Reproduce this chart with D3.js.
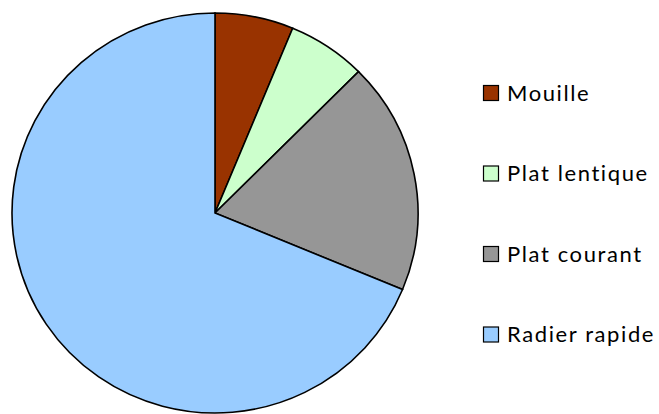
<!DOCTYPE html>
<html>
<head>
<meta charset="utf-8">
<script src="https://cdn.jsdelivr.net/npm/d3@7"></script>
<style>
  body { margin: 0; background: #fff; }
  text { font-family: Lato, "DejaVu Sans", sans-serif; }
</style>
</head>
<body>
<div id="chart"></div>
<script>
// data
const categories = ["Mouille", "Plat lentique", "Plat courant", "Radier rapide"]
const values = [6.25, 6.25, 18.75, 68.75]
const colors = ["#993300", "#CCFFCC", "#969696", "#99CCFF"]

const width = 659
const height = 414
const radius = 200
const center = {x: 215, y: 213}
const stretchX = 1.015  // la tarta original es un poco más ancha que alta

const svg = d3.select("div#chart").append("svg").attr("width", width).attr("height", height)
const pieGroup = svg.append("g").attr("class", "pieGroup")
    .attr("transform", `translate(${center.x}, ${center.y}) scale(${stretchX}, 1)`)
const legendGroup = svg.append("g").attr("class", "legendGroup").attr("transform", "translate(483, 93)")

const color = d3.scaleOrdinal().domain(categories).range(colors)
const pie = d3.pie().sort(null).value(d => d.value)
const arc = d3.arc().innerRadius(0).outerRadius(radius)

const data = categories.map((c, i) => ({name: c, value: values[i]}))

pieGroup.selectAll("path")
    .data(pie(data))
    .enter()
    .append("path")
    .attr("d", arc)
    .attr("fill", d => color(d.data.name))
    .attr("stroke", "#000")
    .attr("stroke-width", 1.6)
    .attr("vector-effect", "non-scaling-stroke")

// legend
const rowStep = 80.5
const legend = legendGroup.selectAll("g")
    .data(categories)
    .enter()
    .append("g")
    .attr("transform", (d, i) => `translate(0, ${i * rowStep})`)

legend.append("rect")
    .attr("x", 0.5)
    .attr("y", -7.5)
    .attr("width", 15)
    .attr("height", 15)
    .attr("fill", d => color(d))
    .attr("stroke", "#000")
    .attr("stroke-width", 1.2)

legend.append("text")
    .attr("x", 24)
    .attr("y", 0)
    .attr("dy", "0.36em")
    .attr("font-size", 22)
    .attr("letter-spacing", 1.6)
    .attr("fill", "#000")
    .text(d => d)
</script>
</body>
</html>
